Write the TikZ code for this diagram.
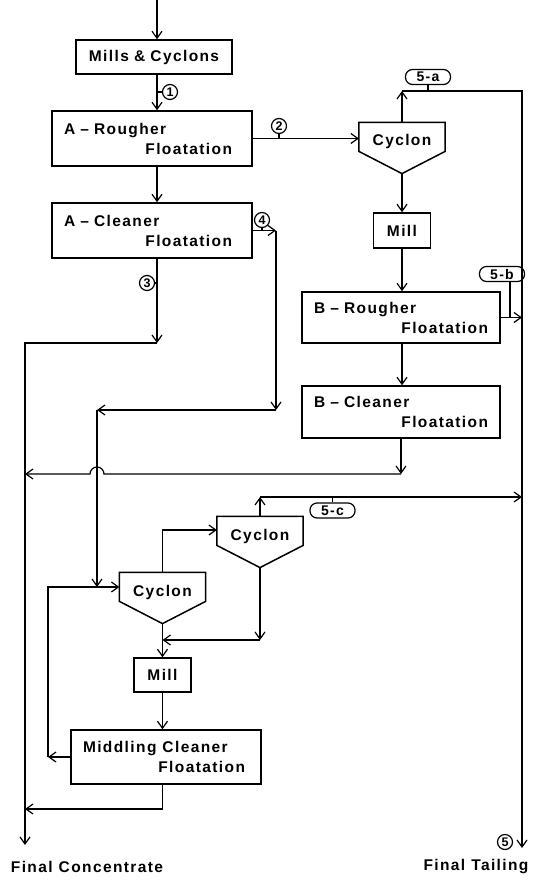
\documentclass[tikz,border=0pt]{standalone}
\usepackage{fontspec}
\setmainfont{Liberation Sans}[LetterSpace=9]
\usetikzlibrary{arrows.meta,calc}
\newcommand\cycdraw[1]{%
  \draw[boxline] (#1.north west) -- (#1.north east) -- ($(#1.north east)+(0,29)$) -- (#1.south) -- ($(#1.north west)+(0,29)$) -- cycle;}
\begin{document}
\begin{tikzpicture}[x=1pt,y=-1pt,
  line width=1.2pt,
  font=\fontsize{15.5}{20}\selectfont\bfseries,
  arr/.style={-{Straight Barb[length=7pt,width=10pt]}},
  boxline/.style={line width=1.5pt},
  box/.style={draw, boxline, inner xsep=12pt, inner ysep=0pt, align=left},
  cyc/.style={minimum width=85pt, minimum height=50pt, inner sep=0pt, text height=10pt, text depth=14pt},
  num/.style={draw, circle, line width=1.2pt, inner sep=0pt, minimum size=15pt, font=\fontsize{12.5}{12.5}\selectfont\bfseries},
  tag/.style={draw, rounded corners=7pt, line width=1.2pt, inner sep=0pt, minimum width=45pt, minimum height=15pt, font=\fontsize{14}{14}\selectfont\bfseries},
  lbl/.style={inner sep=0pt}
]
\fill[white] (0,0) rectangle (536,880);
\useasboundingbox (0,0) rectangle (536,880);

% ---------- nodes ----------
\node[box, text width=132pt, minimum height=34pt, align=center] (mc) at (154,57) {Mills \& Cyclons};
\node[box, text width=176pt, minimum height=55pt] (ar) at (152,138.5) {A -- Rougher\\\hspace*{\fill}Floatation\kern8pt};
\node[box, text width=176pt, minimum height=55pt] (ac) at (152,230.5) {A -- Cleaner\\\hspace*{\fill}Floatation\kern8pt};
\node[cyc] (cy1) at (402,148) {Cyclon};
\cycdraw{cy1}
\node[box, text width=33pt, minimum height=35pt, align=center] (mill1) at (402,230.5) {Mill};
\node[box, text width=174pt, minimum height=51pt] (br) at (401,317.5) {B -- Rougher\\\hspace*{\fill}Floatation};
\node[box, text width=174pt, minimum height=52pt] (bc) at (401,412) {B -- Cleaner\\\hspace*{\fill}Floatation};
\node[cyc] (cy3) at (260,542) {Cyclon};
\cycdraw{cy3}
\node[cyc] (cy2) at (162.5,598) {Cyclon};
\cycdraw{cy2}
\node[box, text width=33pt, minimum height=34pt, align=center] (mill2) at (162.5,675) {Mill};
\node[box, text width=166pt, minimum height=54pt] (mcf) at (166,757) {Middling\hspace{6pt}Cleaner\\\hspace*{\fill}Floatation\kern4pt};

\node[num] (n1) at (170,92) {1};
\node[num] (n2) at (279,126) {2};
\node[num] (n3) at (147,283) {3};
\node[num] (n4) at (262,220) {4};
\node[num] (n5) at (505,842) {5};
\node[tag] (ta) at (428,77) {5-a};
\node[tag] (tb) at (502,274) {5-b};
\node[tag] (tc) at (332.5,510.5) {5-c};
\node[lbl] (fc) at (87,867) {Final\hspace{6pt}Concentrate};
\node[lbl] (ft) at (476,867) {Final\hspace{6pt}Tailing};

% ---------- coordinates ----------
\coordinate (in) at (157,0);
\coordinate (t1) at (402,91);
\coordinate (rt) at (522,91);
\coordinate (rb) at (522,848);
\coordinate (lt) at (25,343);
\coordinate (lb) at (25,845);
\coordinate (c3) at (157,343);
\coordinate (c4a) at (276,230.5);
\coordinate (c4b) at (276,410);
\coordinate (c4c) at (97,410);
\coordinate (c4d) at (97,587);
\coordinate (c10) at (401,474);
\coordinate (m1) at (48,757);
\coordinate (m2) at (48,587);
\coordinate (k1) at (162.5,530);
\coordinate (k2) at (260,497);
\coordinate (k3) at (260,640);
\coordinate (k4) at (162.5,809);
\coordinate (tbk) at (510,281);

% ---------- connectors ----------
\draw[arr] (in) -- (in |- mc.north);
\draw[arr] (in |- mc.south) -- (in |- ar.north);
\draw (n1.west) -- (n1.west -| in);
\draw[arr] (in |- ar.south) -- (in |- ac.north);
\draw[arr] (ar.east) -- (ar.east -| cy1.west);
\draw (n2.south) -- (n2.south |- ar.east);
\draw[arr] (cy1.north) -- (t1);
\draw[arr] (t1) -- (rt) -- (rb);
\draw (ta.south) -- (ta.south |- t1);
\draw[arr] (cy1.south) -- (mill1.north);
\draw[arr] (mill1.south) -- (mill1.south |- br.north);
\draw[arr] (br.east) -- (br.east -| rt);
\draw (tbk) -- (tbk |- br.east);
\draw[arr] (br.south -| mill1.south) -- (bc.north -| mill1.south);
\draw[arr] (bc.south) -- (c10);
\draw[arr] (c10) -- ($(c4c |- c10)+(7,0)$) arc[start angle=0, end angle=180, radius=7pt] -- (lt |- c10);
% A-cleaner outputs
\draw[arr] (in |- ac.south) -- (c3);
\draw (n3.east) -- (n3.east -| in);
\draw[arr] (c3) -- (lt) -- (lb);
\draw[arr] (ac.east) -- (c4a);
\draw (n4.south) -- (n4.south |- ac.east);
\draw[arr] (c4a) -- (c4b);
\draw[arr] (c4b) -- (c4c);
\draw[arr] (c4c) -- (c4d);
% lower circuit
\draw[arr] (mcf.west) -- (m1);
\draw[arr] (m1) -- (m2) -- (m2 -| cy2.west);
\draw[arr] (cy2.north) -- (k1) -- (k1 -| cy3.west);
\draw[arr] (cy3.north) -- (k2);
\draw[arr] (k2) -- (k2 -| rt);
\draw (tc.north) -- (tc.north |- k2);
\draw[arr] (cy3.south) -- (k3);
\draw[arr] (k3) -- (k3 -| cy2.south);
\draw[arr] (cy2.south) -- (mill2.north);
\draw[arr] (mill2.south) -- (mill2.south |- mcf.north);
\draw[arr] (k4 |- mcf.south) -- (k4) -- (k4 -| lt);
\end{tikzpicture}
\end{document}
